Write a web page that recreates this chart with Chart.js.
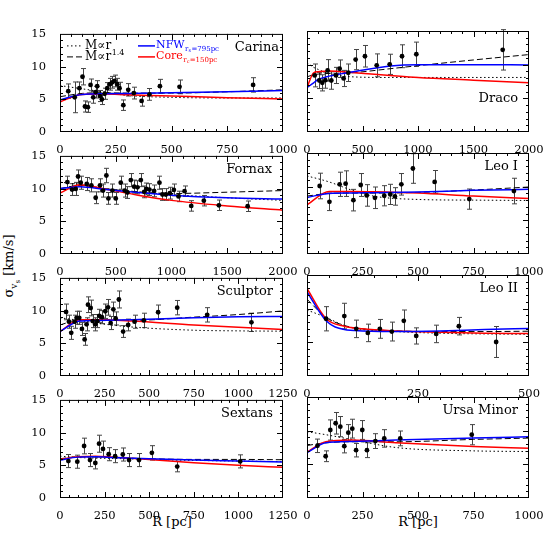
<!DOCTYPE html>
<html>
<head>
<meta charset="utf-8">
<script src="https://cdn.jsdelivr.net/npm/chart.js@4"></script>
<style>
  body { margin: 0; background: #fff; width: 558px; height: 558px; position: relative; overflow: hidden; font-family: "DejaVu Serif", serif; }
  canvas { position: absolute; }
  .lbl { position: absolute; font-size: 13px; color: #000; white-space: nowrap; }
</style>
</head>
<body>
<div class="lbl" id="ytitle" style="left:11px; top:266px; transform:translate(-50%,-50%) rotate(-90deg);">σ<sub style="font-size:9px">v<sub style="font-size:7px">s</sub></sub> [km/s]</div>
<div class="lbl" style="left:172px; top:521px; transform:translate(-50%,-50%);">R [pc]</div>
<div class="lbl" style="left:418px; top:521px; transform:translate(-50%,-50%);">R [pc]</div>
<script>
// ---- Carina ----
var carinaR   = [37, 66, 87, 101, 112, 125, 137, 149, 160, 167, 179, 188, 200, 212, 224, 234, 245, 257, 267, 284, 306, 331, 366, 401, 448, 536, 866];
var carinaV   = [6.25, 5.3, 6.7, 8.45, 3.9, 3.8, 7.2, 5.3, 6.1, 7.0, 5.5, 5.0, 5.85, 6.7, 7.3, 7.6, 7.8, 7.3, 6.7, 4.1, 6.45, 5.95, 4.75, 5.75, 7.0, 6.9, 7.2];
var carinaErr = [1.1, 2.35, 0.95, 1.25, 0.85, 0.8, 0.9, 0.9, 0.9, 0.85, 0.85, 0.8, 0.85, 0.85, 0.9, 0.9, 0.9, 0.9, 0.9, 0.8, 0.95, 0.9, 0.8, 0.9, 1.05, 1.05, 1.1];
var carinaModelR = [0, 100, 200, 300, 500, 750, 1000];
var carinaMr   = [7.1, 6.6, 6.1, 5.6, 5.3, 5.2, 5.2];
var carinaMr14 = [5.4, 5.9, 6.0, 5.95, 5.95, 6.15, 6.45];
var carinaNFW  = [4.9, 5.75, 5.85, 5.9, 6.0, 6.15, 6.35];
var carinaCore = [4.6, 5.75, 5.8, 5.7, 5.5, 5.25, 5.05];

// ---- Draco ----
var dracoR   = [69, 111, 138, 165, 186, 219, 261, 294, 330, 372, 438, 522, 628, 745, 856, 985, 1763];
var dracoV   = [8.4, 7.65, 7.3, 7.7, 9.15, 7.65, 8.4, 9.4, 7.95, 8.8, 10.75, 11.25, 9.9, 10.05, 11.25, 11.55, 12.2];
var dracoErr = [1.7, 1.2, 1.2, 1.2, 1.6, 1.3, 1.2, 1.3, 1.2, 1.3, 1.5, 1.6, 1.7, 1.5, 1.7, 1.8, 3.0];
var dracoModelR = [0, 60, 100, 200, 400, 750, 1000, 1500, 2000];
var dracoMr   = [10.3, 9.6, 9.3, 8.7, 8.2, 8.1, 8.1, 8.1, 8.1];
var dracoMr14 = [8.2, 8.5, 8.6, 8.7, 8.8, 9.4, 9.85, 10.7, 11.5];
var dracoNFW  = [6.6, 7.3, 7.8, 8.3, 8.9, 9.8, 10.0, 10.0, 9.95];
var dracoCore = [6.6, 8.8, 8.95, 9.05, 8.85, 8.4, 8.1, 7.7, 7.3];

// ---- Fornax ----
var fornaxR   = [66, 108, 141, 162, 186, 240, 281, 320, 359, 386, 416, 434, 470, 500, 545, 581, 605, 635, 665, 695, 725, 755, 775, 802, 844, 892, 919, 949, 985, 1021, 1063, 1117, 1177, 1290, 1425, 1683];
var fornaxV   = [11.0, 9.85, 9.95, 11.85, 10.9, 10.7, 10.5, 8.6, 10.5, 9.7, 12.0, 8.5, 9.7, 8.5, 10.9, 9.7, 9.4, 11.3, 10.3, 10.2, 11.3, 9.5, 9.95, 9.85, 9.65, 10.9, 9.1, 9.1, 9.3, 9.8, 8.8, 9.6, 7.35, 8.15, 7.45, 7.3];
var fornaxErr = [0.9, 0.9, 1.0, 1.0, 1.0, 1.0, 1.0, 0.9, 1.0, 1.0, 1.1, 0.9, 1.0, 0.9, 1.0, 1.0, 0.9, 1.0, 1.0, 1.0, 1.0, 0.9, 0.9, 0.9, 0.9, 1.0, 0.9, 0.9, 0.9, 0.9, 0.8, 0.8, 0.8, 0.8, 0.8, 0.8];
var fornaxModelR = [0, 180, 400, 700, 1000, 1500, 2000];
var fornaxMr   = [11.0, 10.6, 10.0, 9.5, 9.1, 8.6, 8.2];
var fornaxMr14 = [10.0, 10.5, 10.0, 9.5, 9.25, 9.45, 9.7];
var fornaxNFW  = [10.0, 10.3, 9.9, 9.4, 9.0, 8.6, 8.4];
var fornaxCore = [9.3, 10.6, 9.95, 9.0, 8.2, 7.35, 6.7];

// ---- Leo I ----
var leo1R   = [57, 101, 147, 174, 209, 242, 269, 306, 348, 375, 396, 425, 477, 575, 731, 932];
var leo1V   = [10.1, 7.75, 10.35, 10.45, 8.0, 10.25, 8.7, 8.35, 8.65, 8.85, 8.55, 10.35, 12.7, 10.7, 8.15, 9.35];
var leo1Err = [1.9, 1.3, 1.8, 1.9, 1.6, 1.7, 1.6, 1.6, 1.5, 1.5, 1.3, 1.6, 2.2, 1.7, 1.5, 1.9];
var leo1ModelR = [0, 100, 200, 300, 500, 750, 1000];
var leo1Mr   = [11.6, 10.7, 9.5, 8.6, 8.1, 8.0, 7.95];
var leo1Mr14 = [8.6, 9.0, 9.05, 9.05, 9.15, 9.5, 9.95];
var leo1NFW  = [8.4, 9.0, 9.05, 9.1, 9.2, 9.45, 9.6];
var leo1Core = [7.3, 9.3, 9.3, 9.25, 9.05, 8.6, 8.25];

// ---- Sculptor ----
var sculptorR   = [34, 50, 63, 82, 93, 108, 123, 138, 149, 157, 172, 183, 198, 209, 220, 235, 254, 269, 284, 299, 312, 330, 354, 382, 418, 470, 550, 657, 825, 1073];
var sculptorV   = [9.8, 8.3, 6.6, 8.3, 8.9, 8.9, 7.2, 5.6, 7.9, 10.9, 10.4, 8.4, 7.9, 8.4, 9.2, 9.0, 9.9, 10.5, 8.1, 10.2, 8.8, 11.7, 6.8, 7.8, 8.3, 8.5, 9.75, 10.45, 9.35, 8.2];
var sculptorErr = [1.2, 1.0, 1.0, 1.0, 1.0, 1.0, 1.0, 0.9, 1.0, 1.2, 1.2, 1.0, 1.0, 1.0, 1.0, 1.0, 1.1, 1.2, 1.0, 1.1, 1.0, 1.3, 0.9, 0.9, 1.0, 1.1, 1.1, 1.1, 1.1, 1.4];
var sculptorModelR = [0, 110, 200, 400, 750, 1000, 1250];
var sculptorMr   = [8.9, 8.5, 8.1, 7.5, 7.0, 6.9, 6.85];
var sculptorMr14 = [7.8, 8.6, 8.6, 8.5, 9.0, 9.4, 9.95];
var sculptorNFW  = [6.8, 8.4, 8.5, 8.6, 8.9, 9.05, 9.1];
var sculptorCore = [6.8, 8.6, 8.6, 8.4, 7.8, 7.45, 7.1];

// ---- Leo II ----
var leo2R   = [43, 84, 111, 137, 164, 191, 218, 246, 291, 342, 426];
var leo2V   = [8.5, 8.9, 7.0, 6.4, 7.0, 6.6, 8.2, 5.95, 6.25, 7.4, 5.05];
var leo2Err = [1.8, 1.9, 1.3, 1.3, 1.4, 1.4, 1.6, 1.2, 1.3, 1.3, 2.3];
var leo2ModelR = [0, 43, 84, 125, 200, 300, 400, 500];
var leo2Mr   = [9.8, 8.7, 7.5, 6.9, 6.6, 6.35, 6.25, 6.2];
var leo2Mr14 = [11.4, 8.7, 7.5, 7.0, 6.7, 6.6, 6.6, 6.65];
var leo2NFW  = [12.5, 8.2, 6.9, 6.7, 6.6, 6.7, 6.9, 7.05];
var leo2Core = [13.0, 8.5, 7.4, 7.0, 6.7, 6.5, 6.35, 6.3];

// ---- Sextans ----
var sextansR   = [47, 97, 135, 168, 198, 219, 241, 273, 309, 352, 387, 443, 515, 657, 1010];
var sextansV   = [5.65, 5.55, 7.95, 5.8, 5.35, 8.3, 7.5, 6.7, 6.4, 6.65, 5.8, 5.8, 6.9, 4.8, 5.6];
var sextansErr = [1.0, 1.0, 1.2, 1.0, 0.9, 1.3, 1.2, 1.0, 1.0, 1.0, 1.0, 1.0, 1.1, 0.8, 1.0];
var sextansModelR = [0, 100, 200, 300, 500, 750, 1000, 1250];
var sextansMr   = [6.4, 6.2, 6.1, 6.05, 5.9, 5.75, 5.65, 5.55];
var sextansMr14 = [6.0, 6.3, 6.3, 6.2, 6.0, 5.9, 5.9, 5.85];
var sextansNFW  = [5.8, 6.25, 6.3, 6.2, 6.0, 5.8, 5.65, 5.5];
var sextansCore = [5.9, 6.3, 6.4, 6.25, 5.9, 5.4, 5.0, 4.7];

// ---- Ursa Minor ----
var umiR   = [47, 84, 105, 129, 150, 168, 186, 204, 221, 249, 270, 308, 348, 420, 742];
var umiV   = [7.75, 6.2, 10.1, 11.1, 10.6, 7.7, 9.7, 10.3, 7.1, 10.1, 7.1, 8.45, 8.85, 8.85, 9.4];
var umiErr = [1.0, 0.8, 1.5, 1.6, 1.5, 1.0, 1.2, 1.4, 1.0, 1.4, 1.1, 1.1, 1.3, 1.1, 1.5];
var umiModelR = [0, 85, 200, 400, 750, 1000];
var umiMr   = [9.85, 9.4, 8.7, 7.5, 7.0, 6.9];
var umiMr14 = [7.8, 8.2, 8.35, 8.35, 8.7, 8.9];
var umiNFW  = [6.75, 8.2, 8.4, 8.6, 8.9, 9.1];
var umiCore = [6.8, 8.35, 8.6, 8.2, 7.65, 7.4];

// panel geometry (px)
var colLeft = [60, 307];
var colWidth = [223, 222];
var rowTop = [31, 153, 275, 397];
var plotH = 101;
var FONT = '"DejaVu Serif", serif';

var panels = [
  {name: 'Carina', col: 0, row: 0, xmax: 1000, xstep: 250, R: carinaR, V: carinaV, E: carinaErr, mR: carinaModelR, a: carinaMr, b: carinaMr14, n: carinaNFW, c: carinaCore, nameY: 13.5, nameIn: 4, legend: true},
  {name: 'Draco', col: 1, row: 0, xmax: 2000, xstep: 500, R: dracoR, V: dracoV, E: dracoErr, mR: dracoModelR, a: dracoMr, b: dracoMr14, n: dracoNFW, c: dracoCore, nameY: 68, nameIn: 11},
  {name: 'Fornax', col: 0, row: 1, xmax: 2000, xstep: 500, R: fornaxR, V: fornaxV, E: fornaxErr, mR: fornaxModelR, a: fornaxMr, b: fornaxMr14, n: fornaxNFW, c: fornaxCore, nameY: 14, nameIn: 11},
  {name: 'Leo I', col: 1, row: 1, xmax: 1000, xstep: 250, R: leo1R, V: leo1V, E: leo1Err, mR: leo1ModelR, a: leo1Mr, b: leo1Mr14, n: leo1NFW, c: leo1Core, nameY: 14, nameIn: 11},
  {name: 'Sculptor', col: 0, row: 2, xmax: 1250, xstep: 250, R: sculptorR, V: sculptorV, E: sculptorErr, mR: sculptorModelR, a: sculptorMr, b: sculptorMr14, n: sculptorNFW, c: sculptorCore, nameY: 13.5, nameIn: 10},
  {name: 'Leo II', col: 1, row: 2, xmax: 500, xstep: 250, R: leo2R, V: leo2V, E: leo2Err, mR: leo2ModelR, a: leo2Mr, b: leo2Mr14, n: leo2NFW, c: leo2Core, nameY: 13.5, nameIn: 11},
  {name: 'Sextans', col: 0, row: 3, xmax: 1250, xstep: 250, R: sextansR, V: sextansV, E: sextansErr, mR: sextansModelR, a: sextansMr, b: sextansMr14, n: sextansNFW, c: sextansCore, nameY: 14, nameIn: 10},
  {name: 'Ursa Minor', col: 1, row: 3, xmax: 1000, xstep: 250, R: umiR, V: umiV, E: umiErr, mR: umiModelR, a: umiMr, b: umiMr14, n: umiNFW, c: umiCore, nameY: 14, nameIn: 11}
];

function pts(xs, ys) {
  return xs.map(function (x, i) { return {x: x, y: ys[i]}; });
}

function hline(ctx, x1, x2, y, color, dash, w) {
  ctx.save();
  ctx.strokeStyle = color;
  ctx.lineWidth = w || 1;
  ctx.setLineDash(dash || []);
  ctx.beginPath(); ctx.moveTo(x1, y); ctx.lineTo(x2, y); ctx.stroke();
  ctx.restore();
}

// error bars under the points
var errorBars = {
  id: 'errorBars',
  beforeDatasetsDraw: function (chart) {
    var ds = chart.data.datasets[0];
    var x = chart.scales.x, y = chart.scales.y, ctx = chart.ctx;
    ctx.save();
    ctx.strokeStyle = '#444';
    ctx.lineWidth = 1;
    ds.data.forEach(function (p, i) {
      var e = ds.errors[i];
      var px = Math.round(x.getPixelForValue(p.x)) + 0.5;
      var y1 = y.getPixelForValue(p.y + e), y2 = y.getPixelForValue(p.y - e);
      ctx.beginPath();
      ctx.moveTo(px, y1); ctx.lineTo(px, y2);
      ctx.moveTo(px - 2.5, y1); ctx.lineTo(px + 2.5, y1);
      ctx.moveTo(px - 2.5, y2); ctx.lineTo(px + 2.5, y2);
      ctx.stroke();
    });
    ctx.restore();
  }
};

// frame with inward ticks on all four sides, panel name, legend
var frame = {
  id: 'frame',
  afterDraw: function (chart) {
    var p = chart.options.plugins.panel;
    var ctx = chart.ctx, a = chart.chartArea, x = chart.scales.x, y = chart.scales.y;
    ctx.save();
    ctx.strokeStyle = '#000';
    ctx.lineWidth = 1;
    ctx.strokeRect(a.left + 0.5, a.top + 0.5, a.right - a.left - 1, a.bottom - a.top - 1);
    ctx.beginPath();
    var minor = p.xstep / 5, v, px, py, len;
    for (v = minor; v < p.xmax; v += minor) {
      px = Math.round(x.getPixelForValue(v)) + 0.5;
      len = (Math.abs(v / p.xstep - Math.round(v / p.xstep)) < 1e-6) ? 6 : 3;
      ctx.moveTo(px, a.bottom); ctx.lineTo(px, a.bottom - len);
      ctx.moveTo(px, a.top); ctx.lineTo(px, a.top + len);
    }
    for (v = 1; v < 15; v += 1) {
      py = Math.round(y.getPixelForValue(v)) + 0.5;
      len = (v % 5 === 0) ? 6 : 3;
      ctx.moveTo(a.left, py); ctx.lineTo(a.left + len, py);
      ctx.moveTo(a.right, py); ctx.lineTo(a.right - len, py);
    }
    ctx.stroke();

    ctx.fillStyle = '#000';
    ctx.font = '13px ' + FONT;
    ctx.textAlign = 'right';
    ctx.textBaseline = 'middle';
    ctx.fillText(p.name, a.right - p.nameIn, a.top + p.nameY);

    if (p.legend) {
      var x0 = a.left, y0 = a.top;
      hline(ctx, x0 + 7, x0 + 22, y0 + 12, '#000', [1.5, 2.5], 1);
      hline(ctx, x0 + 7, x0 + 22, y0 + 23, '#000', [6, 3], 1);
      hline(ctx, x0 + 78, x0 + 95, y0 + 12, '#0000ff', [], 1.5);
      hline(ctx, x0 + 78, x0 + 95, y0 + 23, '#ff0000', [], 1.5);
      ctx.textAlign = 'left';
      ctx.font = '12px ' + FONT;
      ctx.fillText('M\u221Dr', x0 + 25, y0 + 12);
      ctx.fillText('M\u221Dr', x0 + 25, y0 + 23);
      var w = ctx.measureText('M\u221Dr').width;
      ctx.font = '8px ' + FONT;
      ctx.fillText('1.4', x0 + 25 + w + 0.5, y0 + 19);
      // NFW
      ctx.fillStyle = '#0000ff';
      ctx.font = '11px ' + FONT;
      ctx.fillText('NFW', x0 + 96, y0 + 11);
      w = ctx.measureText('NFW').width;
      var sx = x0 + 96 + w + 0.5;
      ctx.font = '7px ' + FONT;
      ctx.fillText('r', sx, y0 + 15);
      var rw = ctx.measureText('r').width;
      ctx.font = '5px ' + FONT;
      ctx.fillText('s', sx + rw, y0 + 17);
      ctx.font = '7px ' + FONT;
      ctx.fillText('=795pc', sx + rw + 3, y0 + 15);
      // Core
      ctx.fillStyle = '#ff0000';
      ctx.font = '11px ' + FONT;
      ctx.fillText('Core', x0 + 96, y0 + 22);
      w = ctx.measureText('Core').width;
      sx = x0 + 96 + w + 0.5;
      ctx.font = '7px ' + FONT;
      ctx.fillText('r', sx, y0 + 26);
      ctx.font = '5px ' + FONT;
      ctx.fillText('c', sx + rw, y0 + 28);
      ctx.font = '7px ' + FONT;
      ctx.fillText('=150pc', sx + rw + 3, y0 + 26);
    }
    ctx.restore();
  }
};

function plainTick(v) { return String(v); }

panels.forEach(function (p) {
  var L = colLeft[p.col], T = rowTop[p.row], W = colWidth[p.col];
  var cv = document.createElement('canvas');
  cv.width = W + 65;
  cv.height = plotH + 32;
  cv.style.left = (L - 45) + 'px';
  cv.style.top = (T - 10) + 'px';
  document.body.appendChild(cv);

  var line = {showLine: true, pointRadius: 0, cubicInterpolationMode: 'monotone'};
  new Chart(cv.getContext('2d'), {
    type: 'scatter',
    data: {
      datasets: [
        {data: pts(p.R, p.V), errors: p.E, pointRadius: 2.4, pointBackgroundColor: '#000', pointBorderWidth: 0, pointHoverRadius: 2.4},
        Object.assign({data: pts(p.mR, p.n), borderColor: '#0000ff', borderWidth: 1.5}, line),
        Object.assign({data: pts(p.mR, p.c), borderColor: '#ff0000', borderWidth: 1.5}, line),
        Object.assign({data: pts(p.mR, p.b), borderColor: '#000', borderWidth: 1, borderDash: [6, 3]}, line),
        Object.assign({data: pts(p.mR, p.a), borderColor: '#000', borderWidth: 1, borderDash: [1.5, 2.5]}, line)
      ]
    },
    options: {
      responsive: false,
      animation: false,
      devicePixelRatio: 1,
      events: [],
      layout: {padding: {top: 10, right: 20, left: 0, bottom: 0}},
      plugins: {
        legend: {display: false},
        tooltip: {enabled: false},
        panel: p
      },
      scales: {
        x: {
          type: 'linear', min: 0, max: p.xmax,
          afterFit: function (s) { s.height = 22; },
          grid: {display: false}, border: {display: false},
          ticks: {stepSize: p.xstep, autoSkip: false, maxRotation: 0, padding: 3, color: '#000', font: {family: FONT, size: 11.5}, callback: plainTick}
        },
        y: {
          type: 'linear', min: 0, max: 15,
          afterFit: function (s) { s.width = 45; },
          grid: {display: false}, border: {display: false},
          ticks: {display: p.col === 0, stepSize: 5, padding: 6, color: '#000', font: {family: FONT, size: 11.5}, callback: plainTick}
        }
      }
    },
    plugins: [errorBars, frame]
  });
});
</script>
</body>
</html>
